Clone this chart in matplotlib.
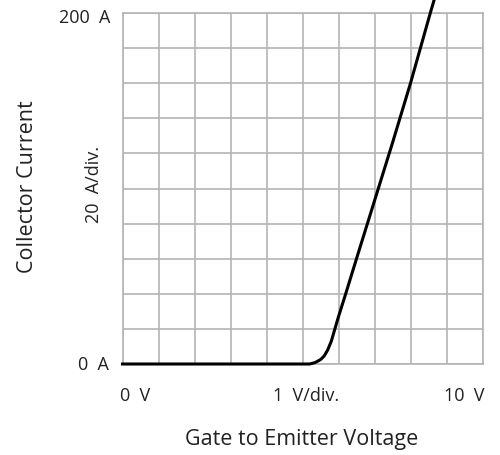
import matplotlib
matplotlib.use("Agg")
import matplotlib.pyplot as plt

# Data (V, A)
voltage = [0, 5.0, 5.2, 5.35, 5.5, 5.6, 5.7, 5.8, 5.9, 6.0, 6.2, 6.5, 7.0, 7.5, 8.0, 8.55, 8.65]
current = [0, 0, 0, 0.8, 2.5, 4.5, 8, 13, 20, 27, 40, 60, 93, 126, 160, 200, 207]

x_labels = ["0  V", "1  V/div.", "10  V"]
y_labels = ["200  A", "20  A/div.", "0  A"]
x_title = "Gate to Emitter Voltage"
y_title = "Collector Current"

plt.rcParams['font.family'] = ['Open Sans', 'DejaVu Sans']

W, H = 500, 455
fig = plt.figure(figsize=(W / 100, H / 100), dpi=100)
ax = fig.add_axes([122.5 / W, 1 - 364 / H, 360 / W, 351 / H])

grid_c = "#b4b4b4"
ax.set_xlim(0, 10)
ax.set_ylim(0, 200)
ax.set_xticks(range(0, 11))
ax.set_yticks(range(0, 201, 20))
ax.grid(True, color=grid_c, linewidth=1.2)
ax.tick_params(length=0, labelbottom=False, labelleft=False)
for s in ax.spines.values():
    s.set_color(grid_c)
    s.set_linewidth(1.2)

ax.plot(voltage, current, color="black", linewidth=2.2, clip_on=False, zorder=5)


def ftext(x, y, s, **kw):
    fig.text(x / W, 1 - y / H, s, **kw)


fs = 13
tc = "#222222"
ftext(110, 18, y_labels[0], ha="right", va="center", fontsize=fs, color=tc)
ftext(109, 365, y_labels[2], ha="right", va="center", fontsize=fs, color=tc)
ftext(94, 184, y_labels[1], ha="center", va="center", rotation=90, fontsize=fs, color=tc)
ftext(135, 396, x_labels[0], ha="center", va="center", fontsize=fs, color=tc)
ftext(306, 396, x_labels[1], ha="center", va="center", fontsize=fs, color=tc)
ftext(464, 396, x_labels[2], ha="center", va="center", fontsize=fs, color=tc)
ftext(302, 440, x_title, ha="center", va="center", fontsize=15.5, color=tc)
ftext(28, 187, y_title, ha="center", va="center", rotation=90, fontsize=15.5, color=tc)

fig.savefig("out.png", dpi=100)
